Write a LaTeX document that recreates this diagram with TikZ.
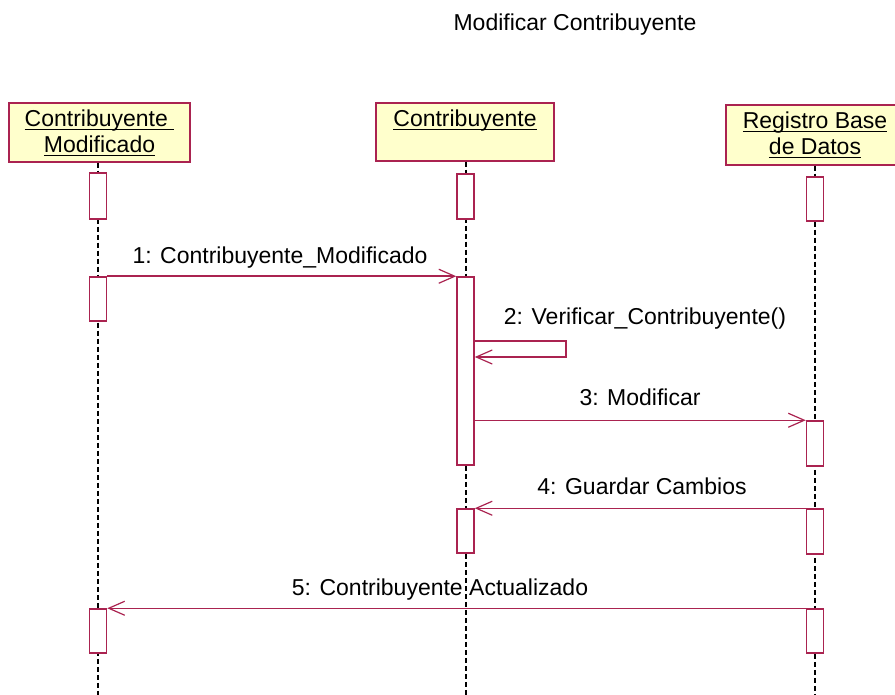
\documentclass[tikz,border=0pt]{standalone}
\usepackage{fontspec}
\setmainfont{Liberation Sans}
\usetikzlibrary{arrows.meta}
\definecolor{umlred}{RGB}{170,35,80}
\definecolor{umlfill}{RGB}{255,255,204}
\newcommand\myul[1]{\setbox0=\hbox{#1}\rlap{\copy0}\rule[-3pt]{\wd0}{1.3pt}}
\begin{document}
\begin{tikzpicture}[x=1pt,y=-1pt,font=\fontsize{23}{26}\selectfont,
  head/.style={draw=umlred,fill=umlfill,line width=1.5pt,inner sep=0pt},
  act/.style={draw=umlred,fill=white,line width=1.5pt,inner sep=0pt,minimum width=17pt},
  lifeline/.style={black,line width=2pt,dash pattern=on 5pt off 3pt},
  msg/.style={umlred,line width=1.5pt,-{Straight Barb[length=16pt,width=14pt,line width=1.2pt]}},
  lbl/.style={anchor=base,inner sep=0pt,text=black}]
\useasboundingbox (0,0) rectangle (895,695);
\clip (0,0) rectangle (895,695);
% title
\node[lbl] (title) at (575,31) {Modificar Contribuyente};
% heads
\node[head,minimum width=181pt,minimum height=59pt] (h1) at (99.5,132.5) {};
\node[head,minimum width=178pt,minimum height=58pt] (h2) at (465,132) {};
\node[head,minimum width=178pt,minimum height=60pt] (h3) at (815,135) {};
\node[lbl] (t1a) at (99.5,127) {\myul{Contribuyente }};
\node[lbl] (t1b) at (99.5,153) {\myul{Modificado}};
\node[lbl] (t2) at (465,127) {\myul{Contribuyente}};
\node[lbl] (t3a) at (815,129) {\myul{Registro Base}};
\node[lbl] (t3b) at (815,155) {\myul{de Datos}};
% lifelines
\coordinate (e1) at (98,695);
\coordinate (e2) at (465.5,695);
\coordinate (e3) at (815,695);
\draw[lifeline] (e1 |- h1.south) -- (e1);
\draw[lifeline] (e2 |- h2.south) -- (e2);
\draw[lifeline] (e3 |- h3.south) -- (e3);
% activations
\node[act,minimum height=46pt] (a1a) at (98,196) {};
\node[act,minimum height=44pt] (a1b) at (98,299) {};
\node[act,minimum height=44pt] (a1c) at (98,631) {};
\node[act,minimum height=45pt] (a2a) at (465.5,196.5) {};
\node[act,minimum height=188pt] (a2b) at (465.5,371) {};
\node[act,minimum height=44pt] (a2c) at (465.5,531) {};
\node[act,minimum height=44pt] (a3a) at (815,199) {};
\node[act,minimum height=45pt] (a3b) at (815,443.5) {};
\node[act,minimum height=45pt] (a3c) at (815,531.5) {};
\node[act,minimum height=44pt] (a3d) at (815,631) {};
% messages
\draw[msg] (a1b.north east) -- (a2b.north west);
\coordinate (s1) at (566,341);
\coordinate (s2) at (566,357);
\draw[msg] (a2b.east |- s1) -- (s1) -- (s2) -- (a2b.east |- s2);
\draw[msg] (a2b.east |- a3b.north) -- (a3b.north west);
\draw[msg] (a3c.north west) -- (a2c.north east);
\draw[msg] (a3d.north west) -- (a1c.north east);
% labels
\node[lbl] (m1) at (280,264) {1: Contribuyente\_Modificado};
\node[lbl] (m2) at (645,325) {2: Verificar\_Contribuyente()};
\node[lbl] (m3) at (640,405) {3: Modificar};
\node[lbl] (m4) at (642,494) {4: Guardar Cambios};
\node[lbl] (m5) at (440,595) {5: Contribuyente Actualizado};
\end{tikzpicture}
\end{document}
